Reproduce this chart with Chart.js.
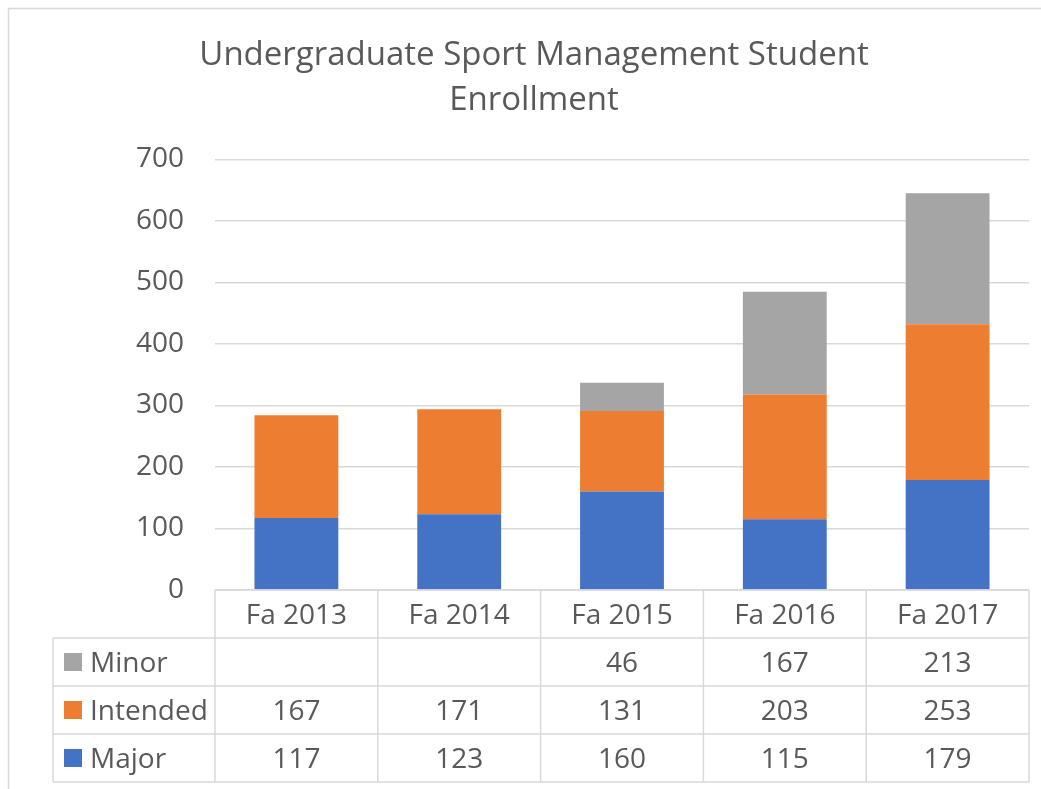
<!DOCTYPE html>
<html>
<head>
<meta charset="utf-8">
<script src="https://cdn.jsdelivr.net/npm/chart.js@4/dist/chart.umd.min.js"></script>
<style>
  html, body { margin: 0; padding: 0; background: #fff; }
  #wrap { width: 1041px; height: 789px; position: relative; }
</style>
</head>
<body>
<div id="wrap"><canvas id="enrollChart" width="1041" height="789"></canvas></div>
<script>
// Chart data
const categories = ['Fa 2013', 'Fa 2014', 'Fa 2015', 'Fa 2016', 'Fa 2017'];
const majorValues = [117, 123, 160, 115, 179];
const intendedValues = [167, 171, 131, 203, 253];
const minorValues = [null, null, 46, 167, 213];
const yTicks = [0, 100, 200, 300, 400, 500, 600, 700];

const textColor = '#595959';
const lineColor = '#D9D9D9';
const fontFamily = "'Open Sans', 'Noto Sans', sans-serif";

// rows of the data table, top to bottom (Excel puts the last series first)
const tableRows = [
    { label: 'Minor', color: '#A5A5A5', values: minorValues },
    { label: 'Intended', color: '#ED7D31', values: intendedValues },
    { label: 'Major', color: '#4472C4', values: majorValues }
];

// Draws the outer chart frame and the data table under the plot
const dataTablePlugin = {
    id: 'dataTable',
    afterDraw(chart) {
        const ctx = chart.ctx;
        const area = chart.chartArea;
        const x = chart.scales.x;
        const rowH = 48;
        const labelLeft = 53;
        const colW = (area.right - area.left) / categories.length;

        ctx.save();
        ctx.strokeStyle = lineColor;
        ctx.lineWidth = 1.5;

        // frame
        ctx.beginPath();
        ctx.moveTo(8.5, 789);
        ctx.lineTo(8.5, 8.5);
        ctx.lineTo(1041, 8.5);
        ctx.stroke();

        const top = area.bottom;
        const bottom = top + rowH * (tableRows.length + 1);

        ctx.beginPath();
        // horizontal lines
        ctx.moveTo(area.left, top);
        ctx.lineTo(area.right, top);
        for (let r = 1; r <= tableRows.length + 1; r++) {
            ctx.moveTo(labelLeft, top + rowH * r);
            ctx.lineTo(area.right, top + rowH * r);
        }
        // vertical lines
        ctx.moveTo(labelLeft, top + rowH);
        ctx.lineTo(labelLeft, bottom);
        for (let c = 0; c <= categories.length; c++) {
            const cx = area.left + colW * c;
            ctx.moveTo(cx, top);
            ctx.lineTo(cx, bottom);
        }
        ctx.stroke();

        ctx.fillStyle = textColor;
        ctx.font = '28px ' + fontFamily;
        ctx.textBaseline = 'middle';
        ctx.textAlign = 'center';

        // header
        categories.forEach((cat, i) => {
            ctx.fillText(cat, x.getPixelForValue(i), top + rowH / 2 + 2);
        });

        // series rows
        tableRows.forEach((row, r) => {
            const cy = top + rowH * (r + 1) + rowH / 2;
            ctx.fillStyle = row.color;
            ctx.fillRect(64, cy - 9, 18, 18);
            ctx.fillStyle = textColor;
            ctx.textAlign = 'left';
            ctx.fillText(row.label, 90, cy + 2);
            ctx.textAlign = 'center';
            row.values.forEach((v, i) => {
                if (v !== null) ctx.fillText(String(v), x.getPixelForValue(i), cy + 2);
            });
        });
        ctx.restore();
    }
};

new Chart(document.getElementById('enrollChart'), {
    type: 'bar',
    data: {
        labels: categories,
        datasets: [
            { label: 'Major', data: majorValues, backgroundColor: '#4472C4' },
            { label: 'Intended', data: intendedValues, backgroundColor: '#ED7D31' },
            { label: 'Minor', data: minorValues, backgroundColor: '#A5A5A5' }
        ]
    },
    options: {
        responsive: false,
        animation: false,
        layout: { padding: { left: 39, right: 12, top: 0, bottom: 199 } },
        datasets: {
            bar: { categoryPercentage: 1, barPercentage: 0.515 }
        },
        plugins: {
            legend: { display: false },
            tooltip: { enabled: false },
            title: {
                display: true,
                text: ['Undergraduate Sport Management Student', 'Enrollment'],
                color: textColor,
                font: { family: fontFamily, size: 33, weight: 'normal', lineHeight: 1.37 },
                padding: { top: 33, bottom: 36 }
            }
        },
        scales: {
            x: {
                stacked: true,
                display: false
            },
            y: {
                stacked: true,
                min: 0,
                max: 700,
                afterFit(scale) { scale.width = 176; },
                afterBuildTicks(scale) { scale.ticks = yTicks.map(v => ({ value: v })); },
                border: { display: false },
                grid: { color: lineColor, lineWidth: 1.5, drawTicks: false },
                ticks: {
                    color: textColor,
                    padding: 31,
                    font: { family: fontFamily, size: 28 }
                }
            }
        }
    },
    plugins: [dataTablePlugin]
});
</script>
</body>
</html>
